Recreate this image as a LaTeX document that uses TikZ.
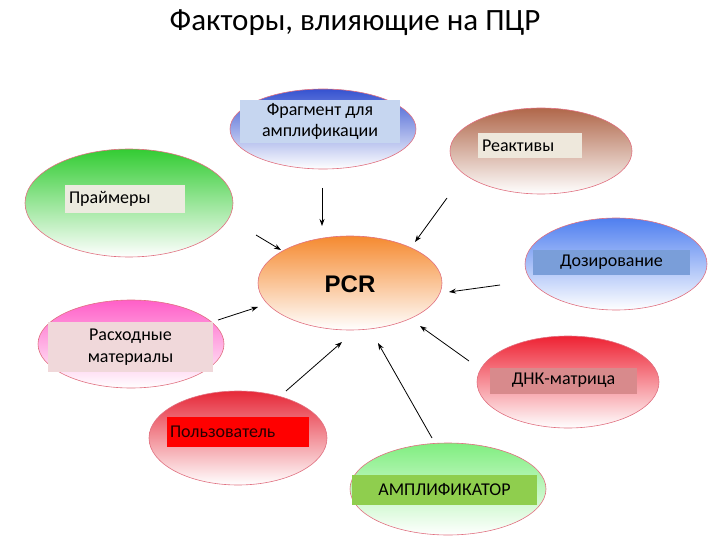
\documentclass[tikz,border=0pt]{standalone}
\usepackage{fontspec}
\setmainfont{Carlito}
\newfontfamily\arialf{Liberation Sans}
\usetikzlibrary{shapes.geometric,arrows.meta}
\definecolor{ellborder}{HTML}{E07080}
\definecolor{cfrag}{HTML}{3552D0}
\definecolor{creac}{HTML}{B0674A}
\definecolor{cprim}{HTML}{33CC33}
\definecolor{cpcr}{HTML}{F58A30}
\definecolor{cdos}{HTML}{4F7FF0}
\definecolor{ccons}{HTML}{FF5FC8}
\definecolor{cdna}{HTML}{EE2233}
\definecolor{cuser}{HTML}{E62838}
\definecolor{camp}{HTML}{80EE80}
\definecolor{bfrag}{HTML}{C6D6F0}
\definecolor{breac}{HTML}{EEE8DC}
\definecolor{bprim}{HTML}{ECEBDF}
\definecolor{bdos}{HTML}{7A9ED9}
\definecolor{bcons}{HTML}{F0D8DA}
\definecolor{bdna}{HTML}{D88A8C}
\definecolor{buser}{HTML}{FF0000}
\definecolor{bamp}{HTML}{8FCE4E}
\tikzset{
  ell/.style={ellipse, draw=ellborder, line width=0.6pt, inner sep=0pt,
    top color=#1, middle color=#1!35!white, bottom color=white},
  lbox/.style={rectangle, fill=#1, inner sep=0pt, font=\fontsize{18}{21.5}\selectfont},
  arr/.style={-{Stealth[length=7pt,width=5pt]}, line width=0.8pt, black}
}
\begin{document}
\begin{tikzpicture}[x=1pt,y=-1pt]
\useasboundingbox (0,0) rectangle (720,540);
\node (title) at (355,23) {\fontsize{31}{36}\selectfont Факторы, влияющие на ПЦР};
% ellipses
\node[ell=cfrag, minimum width=186pt, minimum height=80pt] (efrag) at (323,129) {};
\node[ell=creac, minimum width=182pt, minimum height=86pt] (ereac) at (541,151) {};
\node[ell=cprim, minimum width=208pt, minimum height=108pt] (eprim) at (129,203) {};
\node[ell=cpcr, minimum width=184pt, minimum height=94pt] (epcr) at (350,283) {};
\node[ell=cdos, minimum width=182pt, minimum height=92pt] (edos) at (616,264) {};
\node[ell=ccons, minimum width=186pt, minimum height=88pt] (econs) at (131,344) {};
\node[ell=cdna, minimum width=182pt, minimum height=92pt] (edna) at (568,382) {};
\node[ell=cuser, minimum width=178pt, minimum height=94pt] (euser) at (238,438) {};
\node[ell=camp, minimum width=196pt, minimum height=92pt] (eamp) at (448,489) {};
% label boxes
\node[lbox=bfrag, minimum width=160pt, minimum height=43pt, align=center] (bfrag) at (320,121.5) {Фрагмент для\\амплификации};
\node[lbox=breac, minimum width=104pt, minimum height=25pt, text width=96pt, align=left] (breac) at (530,145.5) {Реактивы};
\node[lbox=bprim, minimum width=120pt, minimum height=28pt, text width=112pt, align=left] (bprim) at (125,199) {Праймеры};
\node[lbox=bdos, minimum width=157pt, minimum height=25pt, align=center] (bdos) at (611.5,262.5) {Дозирование};
\node[lbox=bcons, minimum width=165pt, minimum height=50pt, align=center] (bcons) at (130.5,347) {Расходные\\материалы};
\node[lbox=bdna, minimum width=147pt, minimum height=26pt, align=center] (bdna) at (563.5,380.5) {ДНК-матрица};
\node[lbox=buser, minimum width=142pt, minimum height=30pt, text width=136pt, align=left, text=black!85!red] (buser) at (238,432) {Пользователь};
\node[lbox=bamp, minimum width=185pt, minimum height=30pt, align=center] (bamp) at (444.5,490) {АМПЛИФИКАТОР};
\node[font=\arialf\bfseries\fontsize{24}{28}\selectfont] (pcr) at (350,284) {PCR};
% arrows
\coordinate (s1) at (322,188); \coordinate (t1) at (322,226);
\coordinate (s2) at (447,198); \coordinate (t2) at (415,242);
\coordinate (s3) at (256,235); \coordinate (t3) at (281,250);
\coordinate (s4) at (500,285); \coordinate (t4) at (449,292);
\coordinate (s5) at (218,320); \coordinate (t5) at (258,307);
\coordinate (s6) at (286,391); \coordinate (t6) at (342,342);
\coordinate (s7) at (432,438); \coordinate (t7) at (378,343);
\coordinate (s8) at (469,361); \coordinate (t8) at (420,326);
\foreach \i in {1,...,8} {\draw[arr] (s\i) -- (t\i);}
\end{tikzpicture}
\end{document}
